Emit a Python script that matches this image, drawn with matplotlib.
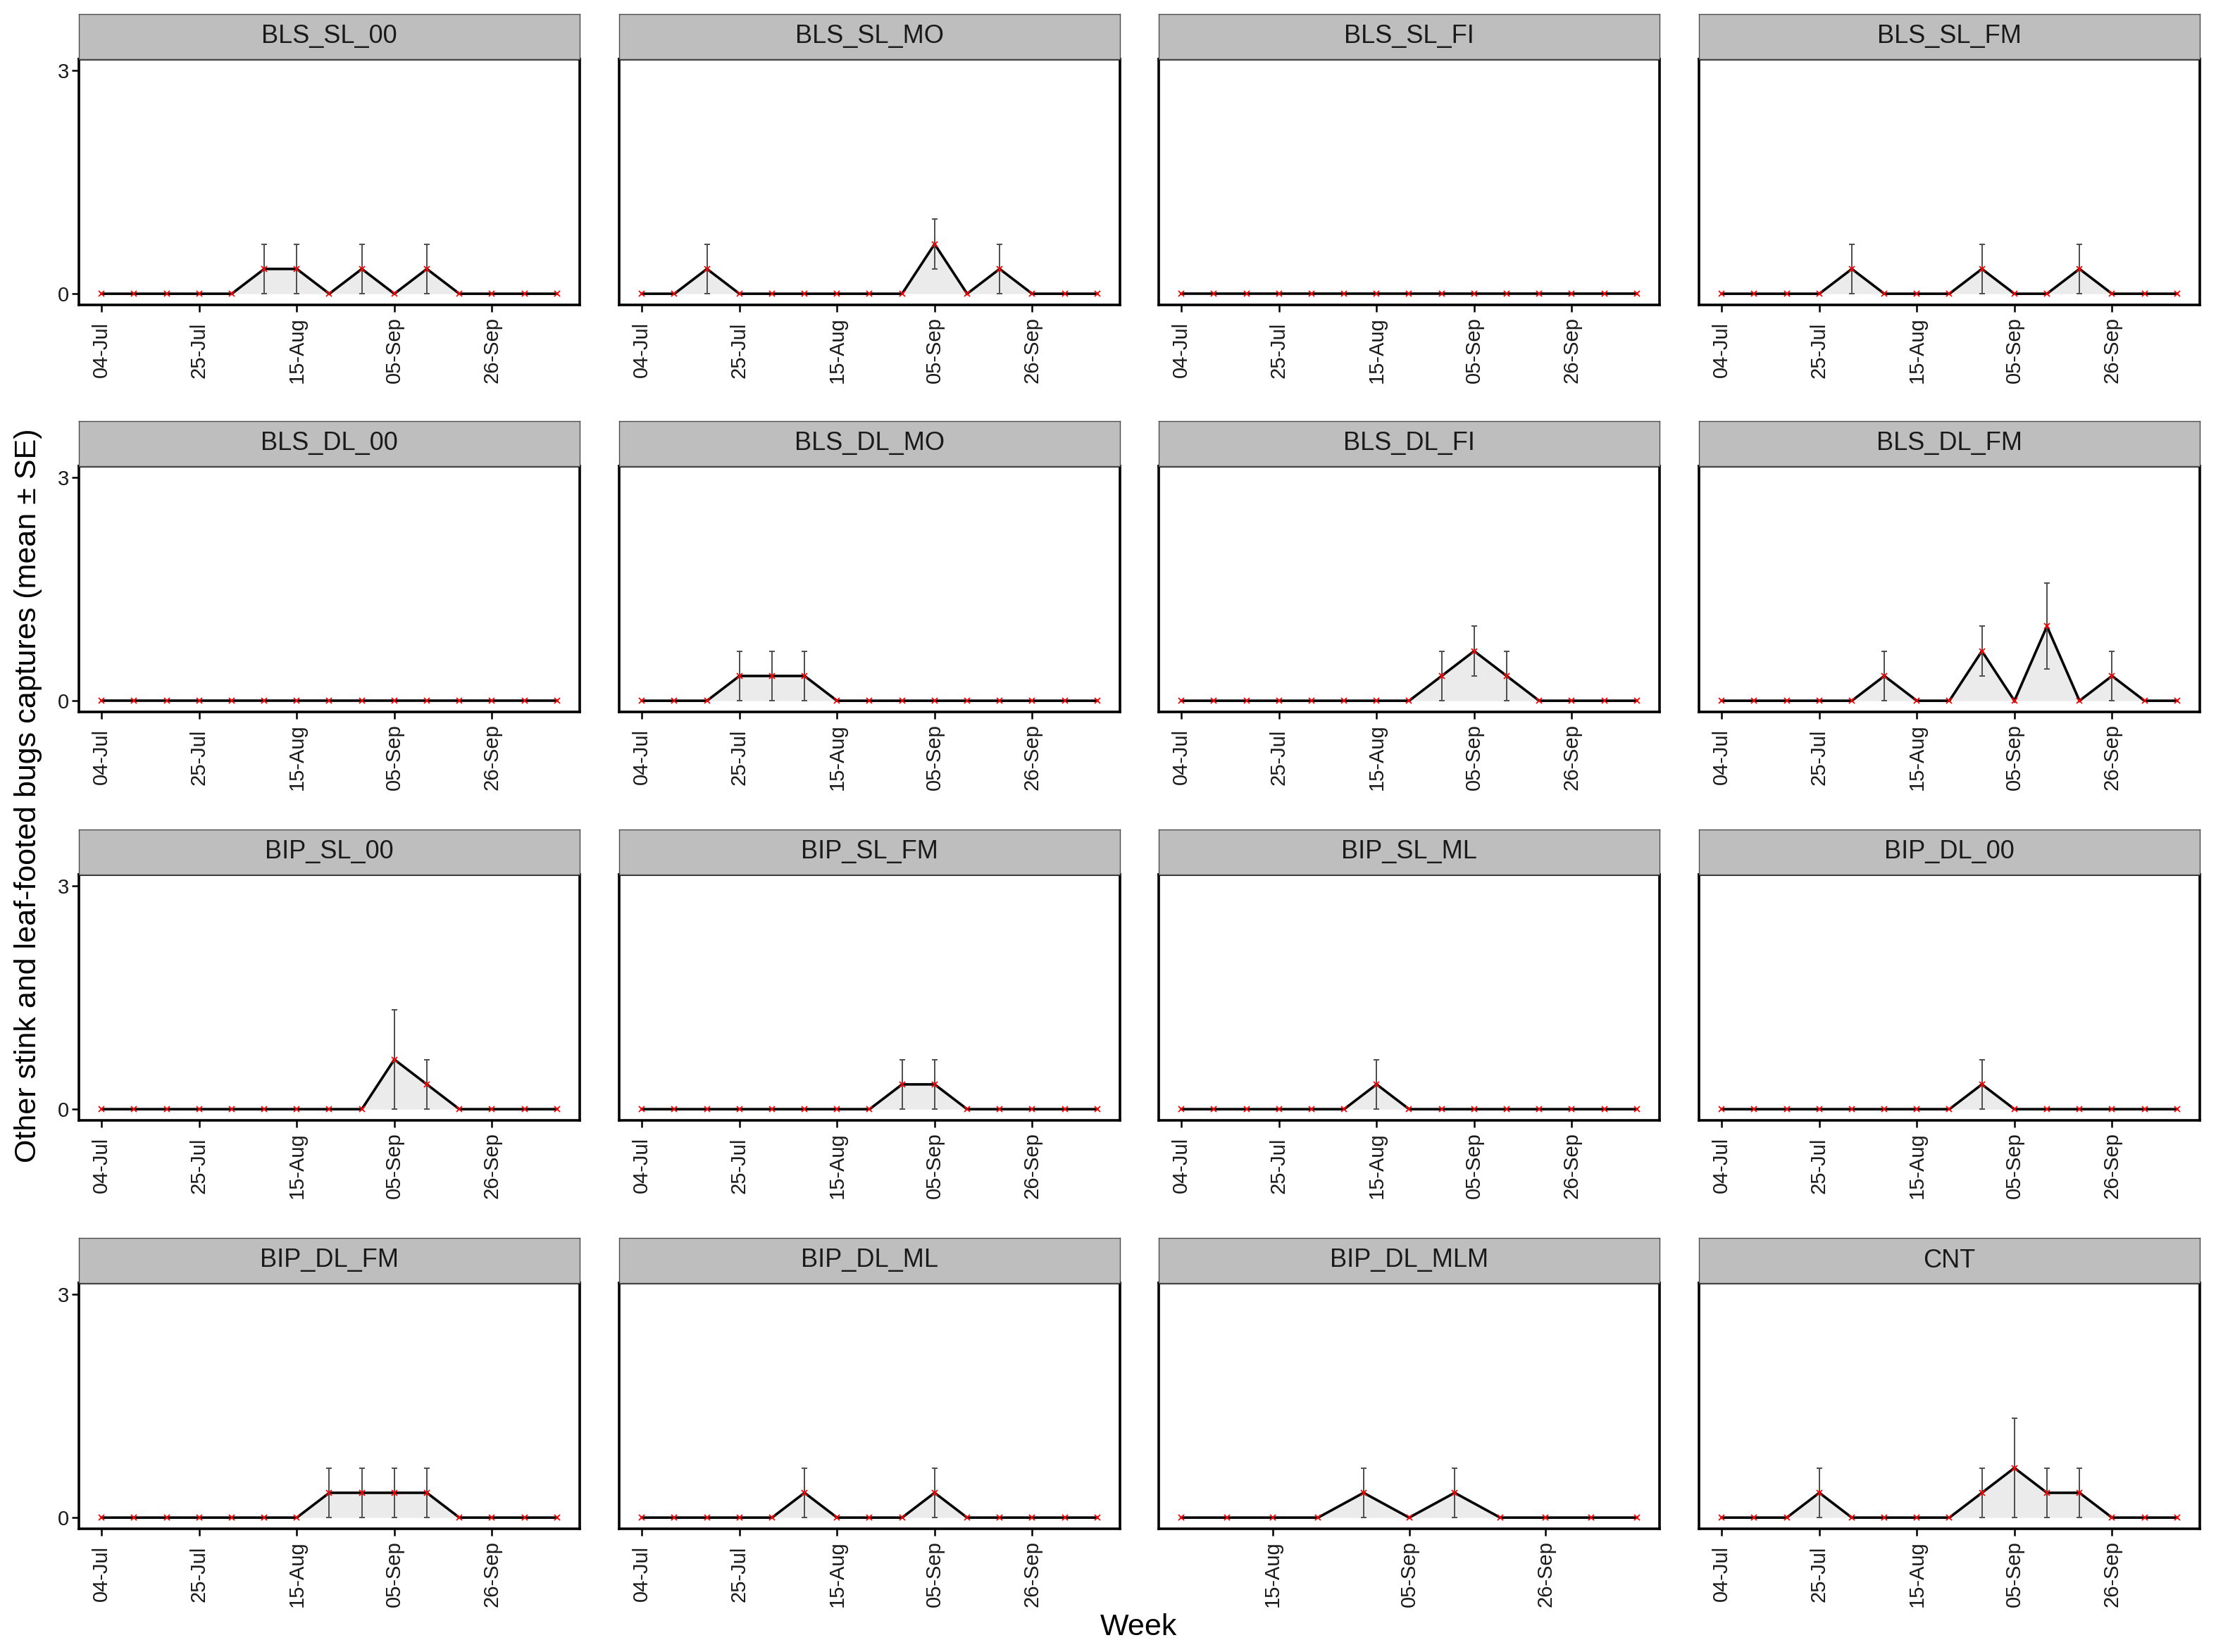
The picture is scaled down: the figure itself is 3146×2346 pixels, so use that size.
import matplotlib
matplotlib.use("Agg")
import matplotlib.pyplot as plt
import matplotlib.dates as mdates
import numpy as np

plt.rcParams['font.family'] = ['Liberation Sans', 'DejaVu Sans']

# ---------------- data ----------------
weeks_full = ['2019-07-04', '2019-07-11', '2019-07-18', '2019-07-25', '2019-08-01',
              '2019-08-08', '2019-08-15', '2019-08-22', '2019-08-29', '2019-09-05',
              '2019-09-12', '2019-09-19', '2019-09-26', '2019-10-03', '2019-10-10']
weeks_mlm = ['2019-08-01', '2019-08-08', '2019-08-15', '2019-08-22', '2019-08-29',
             '2019-09-05', '2019-09-12', '2019-09-19', '2019-09-26', '2019-10-03', '2019-10-10']
tick_dates = ['2019-07-04', '2019-07-25', '2019-08-15', '2019-09-05', '2019-09-26']

panel_names = ['BLS_SL_00', 'BLS_SL_MO', 'BLS_SL_FI', 'BLS_SL_FM',
               'BLS_DL_00', 'BLS_DL_MO', 'BLS_DL_FI', 'BLS_DL_FM',
               'BIP_SL_00', 'BIP_SL_FM', 'BIP_SL_ML', 'BIP_DL_00',
               'BIP_DL_FM', 'BIP_DL_ML', 'BIP_DL_MLM', 'CNT']

BLS_SL_00_mean = [0, 0, 0, 0, 0, 0.333, 0.333, 0, 0.333, 0, 0.333, 0, 0, 0, 0]
BLS_SL_00_se   = [0, 0, 0, 0, 0, 0.333, 0.333, 0, 0.333, 0, 0.333, 0, 0, 0, 0]
BLS_SL_MO_mean = [0, 0, 0.333, 0, 0, 0, 0, 0, 0, 0.667, 0, 0.333, 0, 0, 0]
BLS_SL_MO_se   = [0, 0, 0.333, 0, 0, 0, 0, 0, 0, 0.333, 0, 0.333, 0, 0, 0]
BLS_SL_FI_mean = [0, 0, 0, 0, 0, 0, 0, 0, 0, 0, 0, 0, 0, 0, 0]
BLS_SL_FI_se   = [0, 0, 0, 0, 0, 0, 0, 0, 0, 0, 0, 0, 0, 0, 0]
BLS_SL_FM_mean = [0, 0, 0, 0, 0.333, 0, 0, 0, 0.333, 0, 0, 0.333, 0, 0, 0]
BLS_SL_FM_se   = [0, 0, 0, 0, 0.333, 0, 0, 0, 0.333, 0, 0, 0.333, 0, 0, 0]
BLS_DL_00_mean = [0, 0, 0, 0, 0, 0, 0, 0, 0, 0, 0, 0, 0, 0, 0]
BLS_DL_00_se   = [0, 0, 0, 0, 0, 0, 0, 0, 0, 0, 0, 0, 0, 0, 0]
BLS_DL_MO_mean = [0, 0, 0, 0.333, 0.333, 0.333, 0, 0, 0, 0, 0, 0, 0, 0, 0]
BLS_DL_MO_se   = [0, 0, 0, 0.333, 0.333, 0.333, 0, 0, 0, 0, 0, 0, 0, 0, 0]
BLS_DL_FI_mean = [0, 0, 0, 0, 0, 0, 0, 0, 0.333, 0.667, 0.333, 0, 0, 0, 0]
BLS_DL_FI_se   = [0, 0, 0, 0, 0, 0, 0, 0, 0.333, 0.333, 0.333, 0, 0, 0, 0]
BLS_DL_FM_mean = [0, 0, 0, 0, 0, 0.333, 0, 0, 0.667, 0, 1.0, 0, 0.333, 0, 0]
BLS_DL_FM_se   = [0, 0, 0, 0, 0, 0.333, 0, 0, 0.333, 0, 0.577, 0, 0.333, 0, 0]
BIP_SL_00_mean = [0, 0, 0, 0, 0, 0, 0, 0, 0, 0.667, 0.333, 0, 0, 0, 0]
BIP_SL_00_se   = [0, 0, 0, 0, 0, 0, 0, 0, 0, 0.667, 0.333, 0, 0, 0, 0]
BIP_SL_FM_mean = [0, 0, 0, 0, 0, 0, 0, 0, 0.333, 0.333, 0, 0, 0, 0, 0]
BIP_SL_FM_se   = [0, 0, 0, 0, 0, 0, 0, 0, 0.333, 0.333, 0, 0, 0, 0, 0]
BIP_SL_ML_mean = [0, 0, 0, 0, 0, 0, 0.333, 0, 0, 0, 0, 0, 0, 0, 0]
BIP_SL_ML_se   = [0, 0, 0, 0, 0, 0, 0.333, 0, 0, 0, 0, 0, 0, 0, 0]
BIP_DL_00_mean = [0, 0, 0, 0, 0, 0, 0, 0, 0.333, 0, 0, 0, 0, 0, 0]
BIP_DL_00_se   = [0, 0, 0, 0, 0, 0, 0, 0, 0.333, 0, 0, 0, 0, 0, 0]
BIP_DL_FM_mean = [0, 0, 0, 0, 0, 0, 0, 0.333, 0.333, 0.333, 0.333, 0, 0, 0, 0]
BIP_DL_FM_se   = [0, 0, 0, 0, 0, 0, 0, 0.333, 0.333, 0.333, 0.333, 0, 0, 0, 0]
BIP_DL_ML_mean = [0, 0, 0, 0, 0, 0.333, 0, 0, 0, 0.333, 0, 0, 0, 0, 0]
BIP_DL_ML_se   = [0, 0, 0, 0, 0, 0.333, 0, 0, 0, 0.333, 0, 0, 0, 0, 0]
BIP_DL_MLM_mean = [0, 0, 0, 0, 0.333, 0, 0.333, 0, 0, 0, 0]
BIP_DL_MLM_se   = [0, 0, 0, 0, 0.333, 0, 0.333, 0, 0, 0, 0]
CNT_mean = [0, 0, 0, 0.333, 0, 0, 0, 0, 0.333, 0.667, 0.333, 0.333, 0, 0, 0]
CNT_se   = [0, 0, 0, 0.333, 0, 0, 0, 0, 0.333, 0.667, 0.333, 0.333, 0, 0, 0]

panel_data = [
    (weeks_full, BLS_SL_00_mean, BLS_SL_00_se), (weeks_full, BLS_SL_MO_mean, BLS_SL_MO_se),
    (weeks_full, BLS_SL_FI_mean, BLS_SL_FI_se), (weeks_full, BLS_SL_FM_mean, BLS_SL_FM_se),
    (weeks_full, BLS_DL_00_mean, BLS_DL_00_se), (weeks_full, BLS_DL_MO_mean, BLS_DL_MO_se),
    (weeks_full, BLS_DL_FI_mean, BLS_DL_FI_se), (weeks_full, BLS_DL_FM_mean, BLS_DL_FM_se),
    (weeks_full, BIP_SL_00_mean, BIP_SL_00_se), (weeks_full, BIP_SL_FM_mean, BIP_SL_FM_se),
    (weeks_full, BIP_SL_ML_mean, BIP_SL_ML_se), (weeks_full, BIP_DL_00_mean, BIP_DL_00_se),
    (weeks_full, BIP_DL_FM_mean, BIP_DL_FM_se), (weeks_full, BIP_DL_ML_mean, BIP_DL_ML_se),
    (weeks_mlm, BIP_DL_MLM_mean, BIP_DL_MLM_se), (weeks_full, CNT_mean, CNT_se),
]

# ---------------- layout ----------------
W, H = 3146, 2346
fig = plt.figure(figsize=(W / 100, H / 100), dpi=100)
fig.patch.set_facecolor('white')

col_left = [112, 879, 1645, 2412]
panel_w = 711
row_top = [84, 662, 1242, 1822]
panel_h = 349
strip_h = 64

tick_nums = mdates.datestr2num(tick_dates)

for i, (name, (wk, mean, se)) in enumerate(zip(panel_names, panel_data)):
    r, c = divmod(i, 4)
    L = col_left[c]
    T = row_top[r]
    ax = fig.add_axes([L / W, 1 - (T + panel_h) / H, panel_w / W, panel_h / H])
    sax = fig.add_axes([L / W, 1 - T / H, panel_w / W, strip_h / H])

    # strip
    sax.set_facecolor('#BEBEBE')
    sax.set_xticks([])
    sax.set_yticks([])
    for sp in sax.spines.values():
        sp.set_color('#4D4D4D')
        sp.set_linewidth(1.0)
    sax.text(0.5, 0.5, name, ha='center', va='center', fontsize=26, color='#1A1A1A',
             transform=sax.transAxes)

    x = mdates.datestr2num(wk)
    m = np.array(mean, dtype=float)
    s = np.array(se, dtype=float)

    ax.fill_between(x, 0, m, color='#EBEBEB', lw=0, zorder=1)
    ax.plot(x, m, color='black', lw=2.6, zorder=2, solid_joinstyle='miter')
    mask = s > 0
    if mask.any():
        ax.errorbar(x[mask], m[mask], yerr=s[mask], fmt='none', ecolor='#4D4D4D',
                    elinewidth=1.4, capsize=3, capthick=1.4, zorder=3)
    ax.plot(x, m, linestyle='none', marker='x', color='red', ms=6, mew=1.3, zorder=4)

    ax.set_xticks(tick_nums)
    ax.xaxis.set_major_formatter(mdates.DateFormatter('%d-%b'))
    ax.tick_params(axis='x', direction='out', length=7, width=1.8, labelsize=21,
                   labelrotation=90, pad=39, color='black', labelcolor='#1A1A1A')
    plt.setp(ax.get_xticklabels(), va='center', ha='center')

    span = x.max() - x.min()
    ax.set_xlim(x.min() - 0.05 * span, x.max() + 0.05 * span)

    ax.set_yticks([0, 3])
    ax.set_yticklabels(['0', '3'])
    ax.set_ylim(-0.15, 3.15)
    if c == 0:
        ax.tick_params(axis='y', direction='out', length=7, width=1.8, labelsize=21,
                       pad=3, color='black', labelcolor='#1A1A1A')
    else:
        ax.tick_params(axis='y', left=False, labelleft=False)

    for sp in ax.spines.values():
        sp.set_color('black')
        sp.set_linewidth(2.6)
    ax.set_facecolor('white')

fig.text(1617 / W, 1 - 2311 / H, 'Week', ha='center', va='center', fontsize=31, color='black')
fig.text(40 / W, 1 - 1130 / H, 'Other stink and leaf-footed bugs captures (mean \u00b1 SE)',
         ha='center', va='center', rotation=90, fontsize=31, color='black')

fig.savefig('out.png', dpi=100)
